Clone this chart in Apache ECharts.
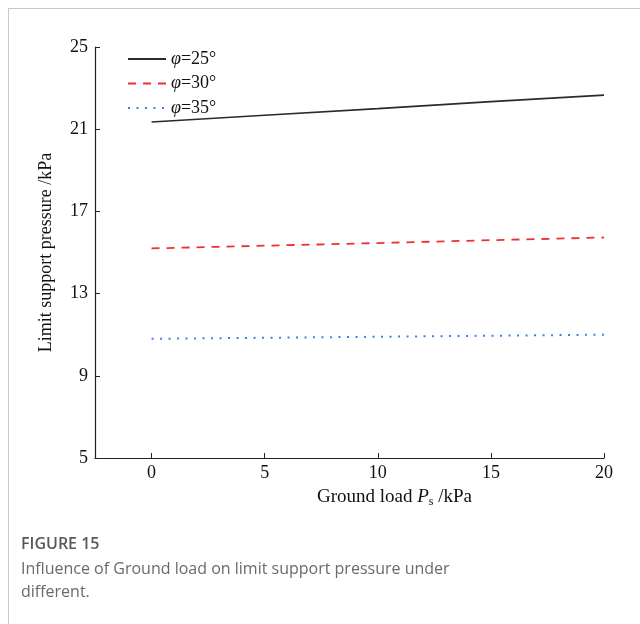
<!DOCTYPE html>
<html>
<head>
<meta charset="utf-8">
<script src="https://cdn.jsdelivr.net/npm/echarts@6/dist/echarts.min.js"></script>
<style>
  html, body { margin: 0; padding: 0; background: #fff; }
  #frame {
    position: absolute; left: 8px; top: 8px; width: 700px; height: 700px;
    border-left: 1px solid #c8c8c8; border-top: 1px solid #c8c8c8;
  }
  #main { position: absolute; left: 0; top: 0; width: 640px; height: 624px; }
</style>
</head>
<body>
<div id="frame"></div>
<div id="main"></div>
<script>
const loads = [0, 5, 10, 15, 20]
const xTicks = [0, 5, 10, 15, 20]
const seriesNames = ['25', '30', '35']
const phi25 = [21.35, 21.68, 22.0, 22.34, 22.66]
const phi30 = [15.2, 15.33, 15.46, 15.6, 15.73]
const phi35 = [10.8, 10.85, 10.9, 10.95, 11.0]

const serif = '"Liberation Serif", "DejaVu Serif", serif'

function pairs(ys) {
  return loads.map((x, i) => [x, ys[i]])
}

function lineSeries(name, ys, color, type, width) {
  return {
    name,
    type: 'line',
    symbol: 'none',
    data: pairs(ys),
    lineStyle: { color, width, type },
    itemStyle: { color },
  }
}

const chart = echarts.init(document.getElementById('main'))
chart.setOption({
  animation: false,
  title: {
    left: 16,
    top: 531,
    text: 'FIGURE 15',
    subtext: 'Influence of Ground load on limit support pressure under\ndifferent.',
    itemGap: 6,
    textStyle: { fontFamily: '"Open Sans"', fontSize: 16, fontWeight: 600, color: '#595959' },
    subtextStyle: { fontFamily: '"Open Sans"', fontSize: 16, color: '#6a6a6a', lineHeight: 23 },
  },
  legend: {
    orient: 'vertical',
    left: 122,
    top: 45,
    itemWidth: 38,
    itemHeight: 10,
    itemGap: 6.5,
    itemStyle: { opacity: 0 },
    formatter: (n) => `{i|φ}=${n}°`,
    textStyle: {
      fontFamily: serif, fontSize: 18, color: '#111',
      rich: { i: { fontFamily: serif, fontSize: 18, fontStyle: 'italic', color: '#111' } },
    },
  },
  grid: { left: 95, right: 36, top: 47, bottom: 166 },
  xAxis: {
    type: 'value',
    min: -2.5,
    max: 20,
    name: '{n|Ground load }{p|P}{s|s}{n| /kPa}',
    nameLocation: 'middle',
    nameGap: 28,
    nameTextStyle: {
      padding: [0, 0, 0, 90],
      rich: {
        n: { fontFamily: serif, fontSize: 19, color: '#111' },
        p: { fontFamily: serif, fontSize: 19, fontStyle: 'italic', color: '#111' },
        s: { fontFamily: serif, fontSize: 12, color: '#111', verticalAlign: 'bottom', padding: [10, 0, 0, 0] },
      },
    },
    splitLine: { show: false },
    axisLine: { onZero: false, lineStyle: { color: '#222', width: 1.2 } },
    axisTick: { inside: true, length: 5, customValues: xTicks, lineStyle: { color: '#222' } },
    axisLabel: {
      customValues: xTicks,
      margin: 6,
      fontFamily: serif, fontSize: 18, color: '#111',
    },
  },
  yAxis: {
    type: 'value',
    min: 5,
    max: 25,
    interval: 4,
    name: 'Limit support pressure /kPa',
    nameLocation: 'middle',
    nameGap: 40,
    nameTextStyle: { fontFamily: serif, fontSize: 18, color: '#111' },
    splitLine: { show: false },
    axisLine: { show: true, onZero: false, lineStyle: { color: '#222', width: 1.2 } },
    axisTick: { show: true, inside: true, length: 5, lineStyle: { color: '#222' } },
    axisLabel: { margin: 7, fontFamily: serif, fontSize: 18, color: '#111' },
  },
  series: [
    lineSeries(seriesNames[0], phi25, '#2b2b2b', 'solid', 1.6),
    lineSeries(seriesNames[1], phi30, '#ee3030', [8, 7], 1.8),
    lineSeries(seriesNames[2], phi35, '#3a7ef2', [2, 6.5], 2),
  ],
})
</script>
</body>
</html>
